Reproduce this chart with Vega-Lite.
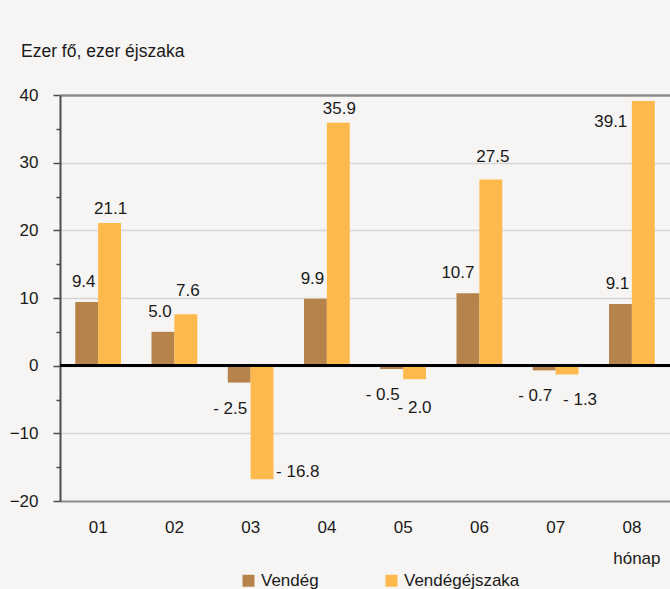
{
  "$schema": "https://vega.github.io/schema/vega-lite/v6.json",
  "width": 610,
  "height": 406,
  "autosize": {"type": "none"},
  "padding": {"left": 60, "top": 95, "right": 0, "bottom": 88},
  "background": "#f6f5f3",
  "title": {
    "text": "Ezer fő, ezer éjszaka",
    "anchor": "start",
    "frame": "group",
    "dx": -39,
    "offset": 12,
    "baseline": "alphabetic",
    "font": "Liberation Sans",
    "fontSize": 17.5,
    "fontWeight": "normal",
    "color": "#1a1a1a"
  },
  "config": {
    "font": "Liberation Sans",
    "view": {"stroke": null},
    "text": {"font": "Liberation Sans", "fontSize": 17, "fill": "#1a1a1a"}
  },
  "data": {
    "values": [
      {"month": "01", "series": "Vendég", "value": 9.4, "label": "9.4"},
      {"month": "01", "series": "Vendégéjszaka", "value": 21.1, "label": "21.1"},
      {"month": "02", "series": "Vendég", "value": 5.0, "label": "5.0"},
      {"month": "02", "series": "Vendégéjszaka", "value": 7.6, "label": "7.6"},
      {"month": "03", "series": "Vendég", "value": -2.5, "label": "- 2.5"},
      {"month": "03", "series": "Vendégéjszaka", "value": -16.8, "label": "- 16.8"},
      {"month": "04", "series": "Vendég", "value": 9.9, "label": "9.9"},
      {"month": "04", "series": "Vendégéjszaka", "value": 35.9, "label": "35.9"},
      {"month": "05", "series": "Vendég", "value": -0.5, "label": "- 0.5"},
      {"month": "05", "series": "Vendégéjszaka", "value": -2.0, "label": "- 2.0"},
      {"month": "06", "series": "Vendég", "value": 10.7, "label": "10.7"},
      {"month": "06", "series": "Vendégéjszaka", "value": 27.5, "label": "27.5"},
      {"month": "07", "series": "Vendég", "value": -0.7, "label": "- 0.7"},
      {"month": "07", "series": "Vendégéjszaka", "value": -1.3, "label": "- 1.3"},
      {"month": "08", "series": "Vendég", "value": 9.1, "label": "9.1"},
      {"month": "08", "series": "Vendégéjszaka", "value": 39.1, "label": "39.1"}
    ]
  },
  "encoding": {
    "x": {
      "field": "month",
      "type": "nominal",
      "scale": {"paddingInner": 0.4, "paddingOuter": 0.2},
      "axis": {
        "title": "hónap",
        "titleX": 600,
        "titleY": 62,
        "titleAlign": "right",
        "titleAnchor": null,
        "titleBaseline": "alphabetic",
        "titleFont": "Liberation Sans",
        "titleFontSize": 17,
        "titleFontWeight": "normal",
        "titleColor": "#1a1a1a",
        "labelAngle": 0,
        "labelFontSize": 17,
        "labelColor": "#1a1a1a",
        "labelPadding": 18,
        "ticks": false,
        "domainColor": "#8c8c8c",
        "domainWidth": 2,
        "grid": false
      }
    },
    "xOffset": {
      "field": "series",
      "type": "nominal",
      "scale": {"domain": ["Vendég", "Vendégéjszaka"], "paddingInner": 0, "paddingOuter": 0}
    },
    "y": {
      "field": "value",
      "type": "quantitative",
      "scale": {"domain": [-20, 40], "nice": false, "zero": false},
      "axis": {
        "title": null,
        "values": [-20, -15, -10, -5, 0, 5, 10, 15, 20, 25, 30, 35, 40],
        "labelExpr": "datum.value % 10 === 0 ? datum.label : ''",
        "labelFontSize": 17,
        "labelColor": "#1a1a1a",
        "labelPadding": 15,
        "tickColor": "#4d4d4d",
        "tickWidth": 1.5,
        "tickSize": {"condition": {"test": "datum.value % 10 === 0", "value": 7}, "value": 4},
        "domainColor": "#4d4d4d",
        "domainWidth": 2,
        "grid": true,
        "gridColor": {"condition": {"test": "datum.value === 40", "value": "#8c8c8c"}, "value": "#d6d6d6"},
        "gridWidth": {"condition": {"test": "datum.value === 40", "value": 2.5}, "value": 1.5},
        "gridOpacity": {"condition": {"test": "datum.value % 10 === 0 && datum.value > -20", "value": 1}, "value": 0}
      }
    }
  },
  "layer": [
    {
      "mark": {"type": "bar"},
      "encoding": {
        "color": {
          "field": "series",
          "type": "nominal",
          "scale": {"domain": ["Vendég", "Vendégéjszaka"], "range": ["#b6844a", "#fdb94b"]},
          "legend": {
            "title": null,
            "orient": "none",
            "direction": "horizontal",
            "legendX": 180,
            "legendY": 477,
            "symbolType": "square",
            "symbolSize": 144,
            "symbolStrokeWidth": 0,
            "symbolOpacity": 1,
            "labelFontSize": 17,
            "labelColor": "#1a1a1a",
            "labelOffset": 4,
            "columnPadding": 64,
            "padding": 0
          }
        }
      }
    },
    {
      "mark": {"type": "rule", "color": "#000000", "strokeWidth": 2},
      "encoding": {"y": {"datum": 0}, "x": null, "xOffset": null}
    },
    {
      "transform": [{"filter": "datum.series === 'Vendég' && datum.value > 0 && datum.label !== '10.7'"}],
      "mark": {"type": "text", "align": "center", "baseline": "alphabetic", "dx": -3, "dy": -15},
      "encoding": {"text": {"field": "label"}}
    },
    {
      "transform": [{"filter": "datum.label === '10.7'"}],
      "mark": {"type": "text", "align": "center", "baseline": "alphabetic", "dx": -10, "dy": -15},
      "encoding": {"text": {"field": "label"}}
    },
    {
      "transform": [{"filter": "datum.label === '21.1' || datum.label === '35.9'"}],
      "mark": {"type": "text", "align": "center", "baseline": "alphabetic", "dx": 1, "dy": -9},
      "encoding": {"text": {"field": "label"}}
    },
    {
      "transform": [{"filter": "datum.label === '7.6' || datum.label === '27.5'"}],
      "mark": {"type": "text", "align": "center", "baseline": "alphabetic", "dx": 2, "dy": -18},
      "encoding": {"text": {"field": "label"}}
    },
    {
      "transform": [{"filter": "datum.label === '39.1'"}],
      "mark": {"type": "text", "align": "right", "baseline": "alphabetic", "dx": -16, "dy": 26},
      "encoding": {"text": {"field": "label"}}
    },
    {
      "transform": [{"filter": "datum.series === 'Vendég' && datum.value < 0"}],
      "mark": {"type": "text", "align": "right", "baseline": "alphabetic", "dx": 8, "dy": 31},
      "encoding": {"text": {"field": "label"}}
    },
    {
      "transform": [{"filter": "datum.label === '- 2.0'"}],
      "mark": {"type": "text", "align": "center", "baseline": "alphabetic", "dx": 0, "dy": 34},
      "encoding": {"text": {"field": "label"}}
    },
    {
      "transform": [{"filter": "datum.label === '- 1.3'"}],
      "mark": {"type": "text", "align": "center", "baseline": "alphabetic", "dx": 13, "dy": 31},
      "encoding": {"text": {"field": "label"}}
    },
    {
      "transform": [{"filter": "datum.label === '- 16.8'"}],
      "mark": {"type": "text", "align": "left", "baseline": "alphabetic", "dx": 14, "dy": -2},
      "encoding": {"text": {"field": "label"}}
    }
  ]
}
